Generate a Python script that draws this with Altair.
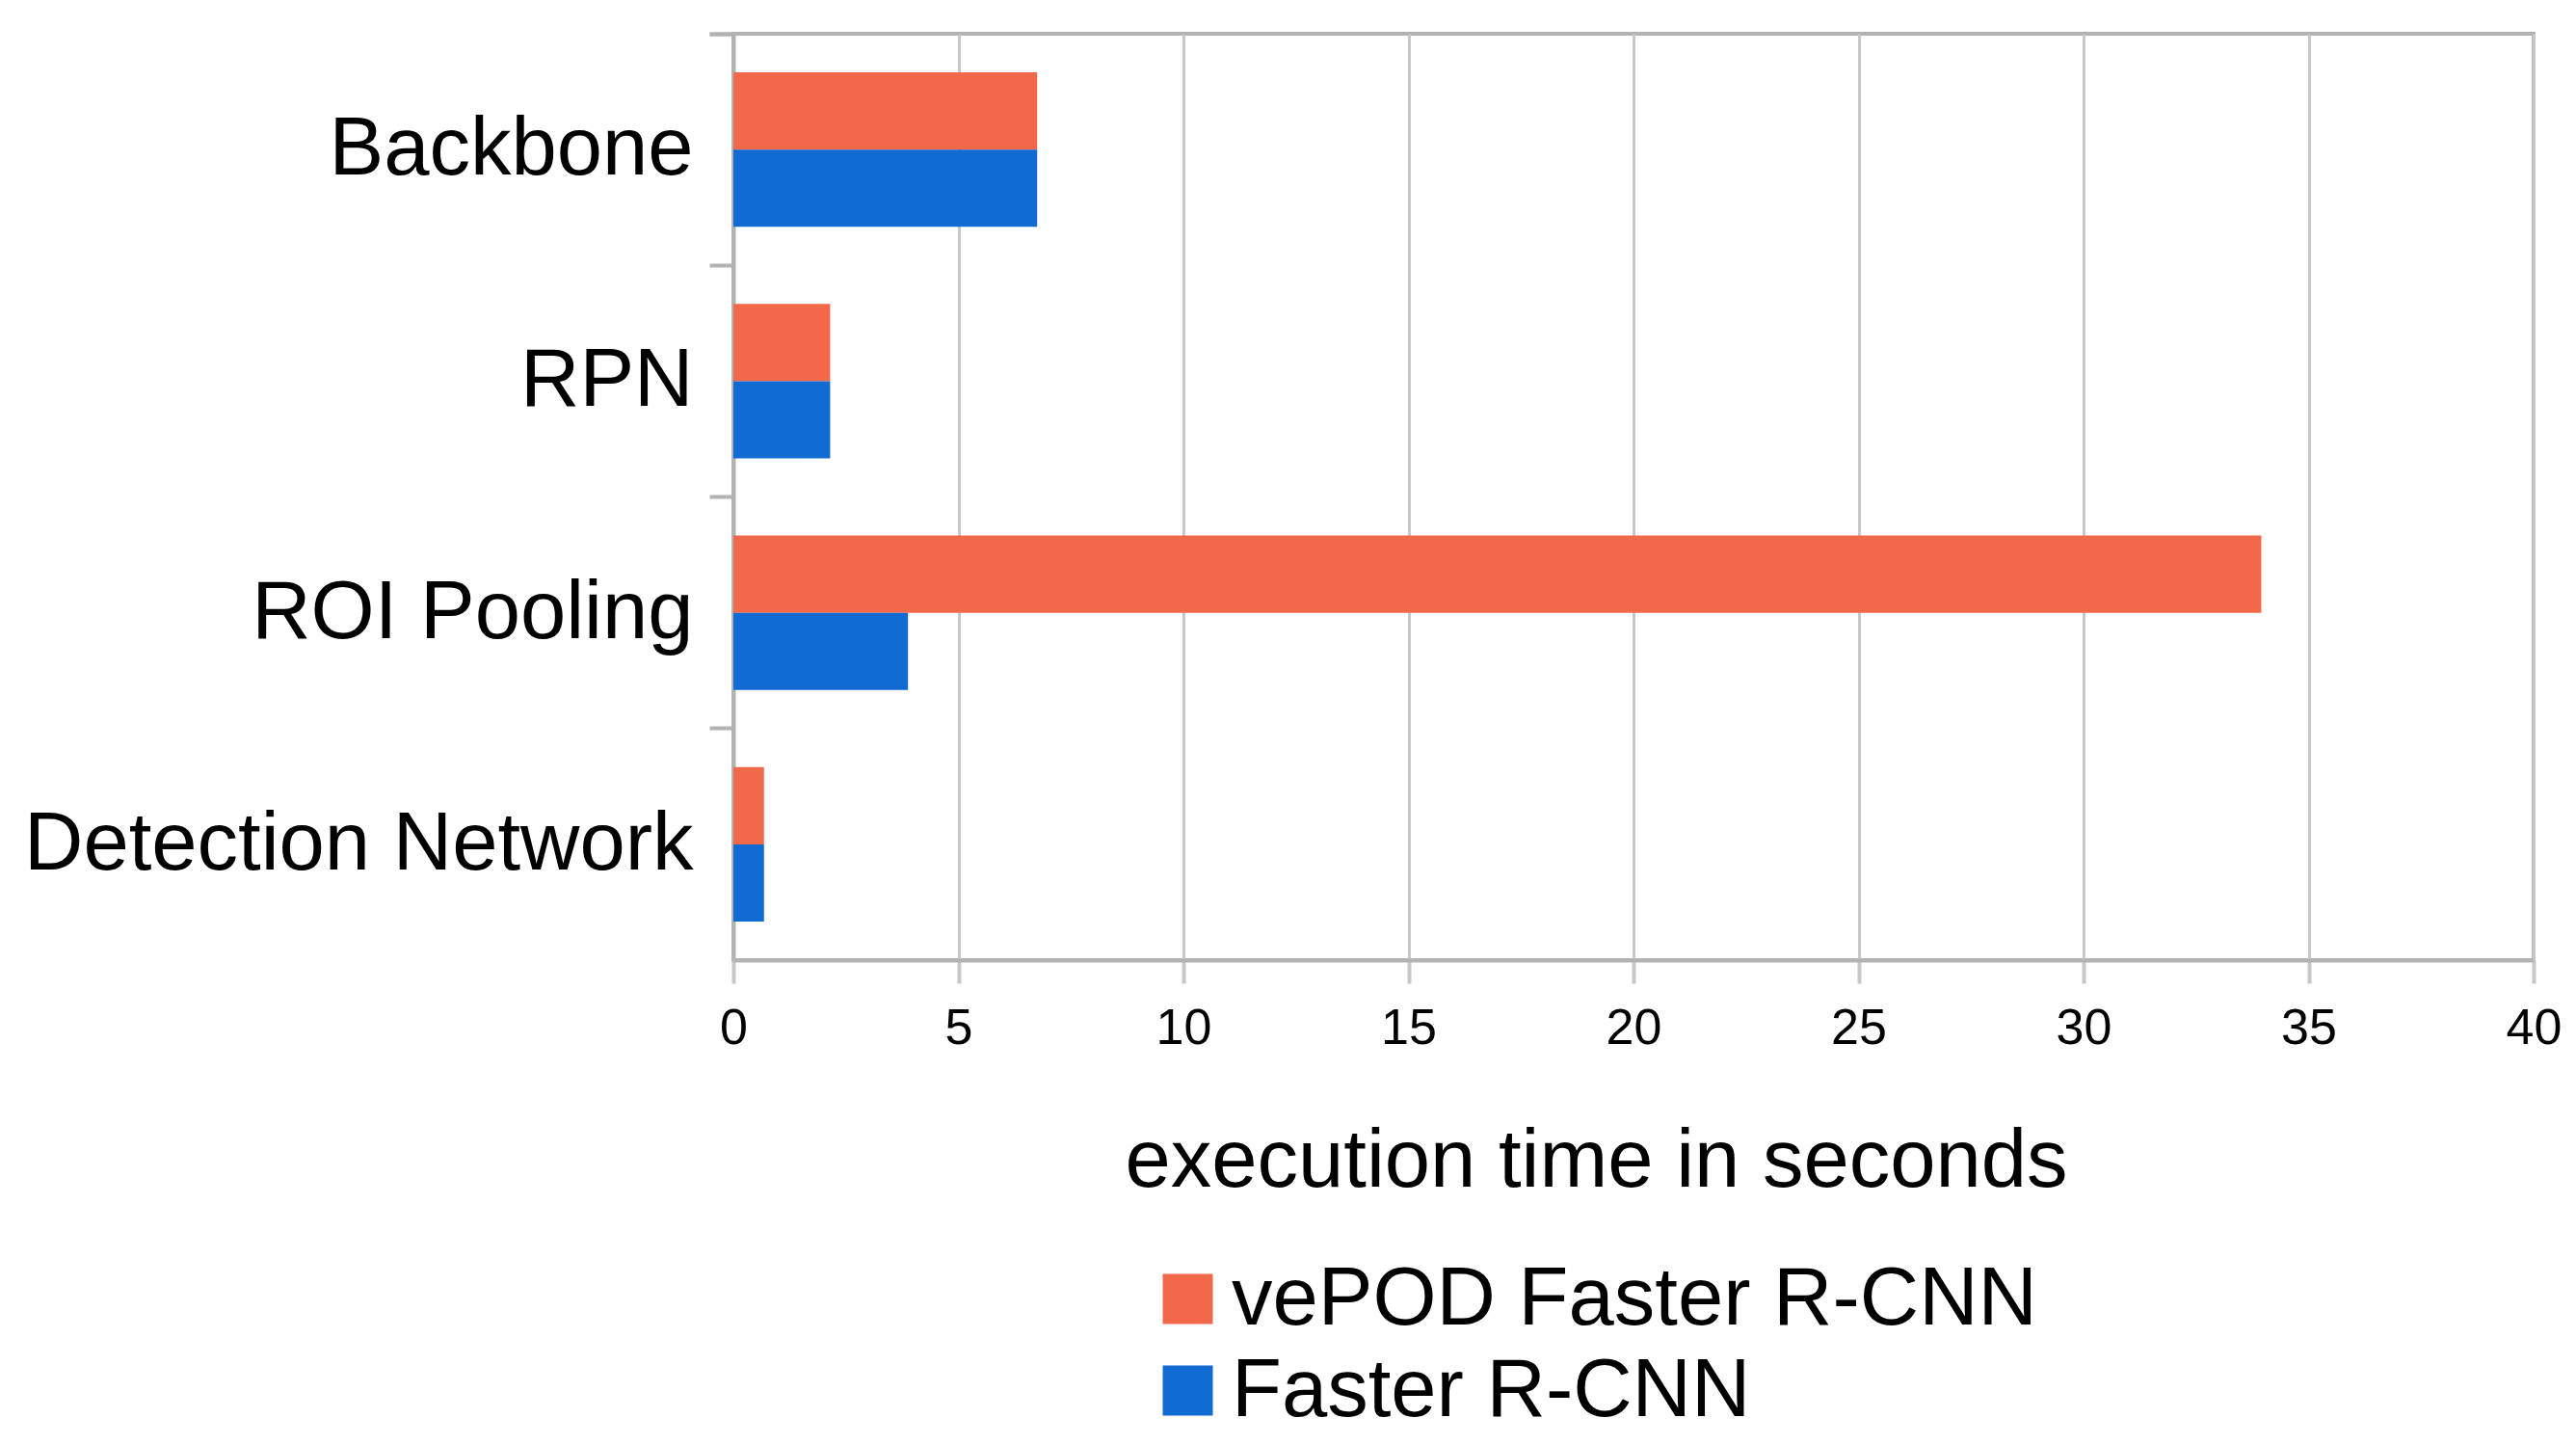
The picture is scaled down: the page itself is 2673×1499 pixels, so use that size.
import altair as alt
import pandas as pd

categories = ["Backbone", "RPN", "ROI Pooling", "Detection Network"]
series = ["vePOD Faster R-CNN", "Faster R-CNN"]
vepod_times = [6.75, 2.15, 33.95, 0.68]
faster_times = [6.75, 2.15, 3.88, 0.68]
colors = ["#F2694A", "#126AD3"]
x_ticks = [0, 5, 10, 15, 20, 25, 30, 35, 40]

rows = []
for c, v, f in zip(categories, vepod_times, faster_times):
    rows.append({"component": c, "series": series[0], "time": v})
    rows.append({"component": c, "series": series[1], "time": f})
df = pd.DataFrame(rows)

FONT = "Liberation Sans"
AXIS_GRAY = "#b3b3b3"
GRID_GRAY = "#c8c8c8"

chart = (
    alt.Chart(df)
    .mark_bar()
    .encode(
        x=alt.X(
            "time:Q",
            scale=alt.Scale(domain=[0, 40], nice=False, zero=True),
            axis=alt.Axis(
                values=x_ticks,
                title="execution time in seconds",
                grid=True,
                gridColor=GRID_GRAY,
                gridWidth=3,
                tickColor=GRID_GRAY,
                tickWidth=4,
                tickSize=24,
                domainColor=AXIS_GRAY,
                domainWidth=4,
                labelFont=FONT,
                labelFontSize=52,
                labelColor="black",
                labelPadding=21,
                labelFlush=False,
                titleFont=FONT,
                titleFontSize=85,
                titleFontWeight="normal",
                titleColor="black",
                titleX=895,
                titleY=234,
                titleBaseline="alphabetic",
                titleAlign="center",
            ),
        ),
        y=alt.Y(
            "component:N",
            sort=categories,
            scale=alt.Scale(paddingInner=0, paddingOuter=0),
            axis=alt.Axis(
                title=None,
                bandPosition=0,
                tickExtra=True,
                tickSize=25,
                tickColor=AXIS_GRAY,
                tickWidth=4,
                domainColor=AXIS_GRAY,
                domainWidth=4,
                labelFont=FONT,
                labelFontSize=85,
                labelColor="black",
                labelPadding=17,
                labelLimit=0,
                grid=False,
            ),
        ),
        yOffset=alt.YOffset(
            "series:N",
            sort=series,
            scale=alt.Scale(paddingInner=0, paddingOuter=0.5),
        ),
        color=alt.Color(
            "series:N",
            sort=series,
            scale=alt.Scale(domain=series, range=colors),
            legend=alt.Legend(
                title=None,
                orient="none",
                legendX=429,
                legendY=1270,
                symbolType="square",
                symbolSize=2704,
                symbolStrokeWidth=0,
                symbolOpacity=1,
                labelFont=FONT,
                labelFontSize=85,
                labelColor="black",
                labelOffset=3,
                labelLimit=0,
                rowPadding=9,
                padding=0,
            ),
        ),
    )
    .properties(
        width=1868,
        height=961,
        autosize=alt.AutoSizeParams(type="none"),
        padding={"left": 753, "top": 27, "right": 28, "bottom": 492},
    )
    .configure_view(stroke=AXIS_GRAY, strokeWidth=4)
)

chart.save("out.html", embed_options={"renderer": "svg", "actions": False})
